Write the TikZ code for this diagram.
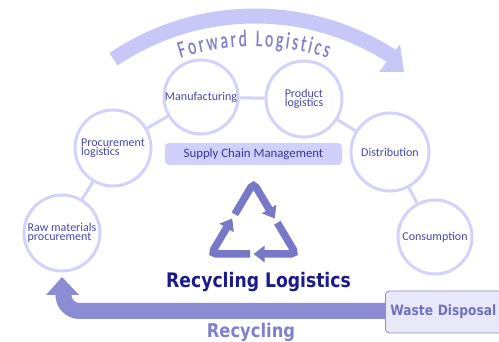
\documentclass[tikz,border=0pt]{standalone}
\usepackage{fontspec}
\setmainfont{Carlito}
\newfontfamily\circfont{Carlito}
\newfontfamily\fwdfont[FakeStretch=0.66,FakeBold=0.6]{Carlito}
\newfontfamily\boldfont[FakeStretch=0.86]{DejaVu Sans}
\usetikzlibrary{arrows.meta,decorations.text,calc}
\definecolor{circline}{RGB}{210,210,250}
\definecolor{circtext}{RGB}{72,72,168}
\definecolor{scmfill}{RGB}{208,208,250}
\definecolor{scmtext}{RGB}{56,56,150}
\definecolor{fwdband}{RGB}{200,200,248}
\definecolor{fwdtext}{RGB}{128,128,200}
\definecolor{recy}{RGB}{120,120,200}
\definecolor{rltext}{RGB}{26,26,140}
\definecolor{recband}{RGB}{140,140,212}
\definecolor{rectext}{RGB}{128,128,204}
\definecolor{wastefill}{RGB}{232,232,248}
\definecolor{wastedraw}{RGB}{140,140,204}
\definecolor{wastetext}{RGB}{112,112,192}
\begin{document}
\begin{tikzpicture}[x=1pt,y=1pt,
  stage/.style={circle, draw=circline, line width=3pt, fill=white, inner sep=0pt,
    align=left, text=circtext, font=\circfont\fontsize{12}{9}\selectfont},
  link/.style={draw=circline, line width=3pt},
  recarrow/.style={draw=recy, line width=7.5pt, rounded corners=5pt,
    -{Triangle[width=16pt,length=11pt]}}
]
\useasboundingbox (0,0) rectangle (499,-342);

% forward logistics arrow
\draw[fwdband, line width=15pt] (255,-269) ++(124:253) arc[start angle=124, end angle=57, radius=253];
\fill[fwdband] (400,-44) -- (404,-72) -- (379,-72) -- cycle;
\path[decorate, decoration={text along path,
   text={|\fwdfont\fontsize{23.5}{24}\selectfont|Forward Logistics},
   text color=fwdtext, text align={fit to path}}]
   (254,-284) ++(108:238) arc[start angle=108, end angle=72, radius=238];

% stages
\node[stage, minimum size=76pt] (raw)  at (62,-233)  {Raw materials\\procurement};
\node[stage, minimum size=76pt] (proc) at (113,-148) {Procurement\\logistics};
\node[stage, minimum size=74pt] (manu) at (201,-97)  {Manufacturing};
\node[stage, minimum size=76pt] (prod) at (304,-99)  {Product\\logistics};
\node[stage, minimum size=78pt] (dist) at (390,-152) {Distribution};
\node[stage, minimum size=74pt] (cons) at (435,-237) {Consumption};
\draw[link] (raw) -- (proc);
\draw[link] (proc) -- (manu);
\draw[link] (manu) -- (prod);
\draw[link] (prod) -- (dist);
\draw[link] (dist) -- (cons);

% supply chain management
\node[fill=scmfill, rounded corners=4pt, minimum width=177pt, minimum height=22pt,
  text=scmtext, font=\circfont\fontsize{12.8}{14}\selectfont] (scm) at (253.5,-154) {Supply Chain Management};

% recycle symbol
\coordinate (A) at (253.5,-183);
\coordinate (B) at (211,-254);
\coordinate (C) at (296,-254);
\draw[recarrow] ($(C)!0.54!(B)$) -- (B) -- ($(B)!0.5!(A)$);
\draw[recarrow] ($(B)!0.56!(A)$) -- (A) -- ($(A)!0.5!(C)$);
\draw[recarrow] ($(A)!0.56!(C)$) -- (C) -- ($(C)!0.5!(B)$);

\node[anchor=base, text=rltext, font=\boldfont\bfseries\fontsize{20}{22}\selectfont] (rl) at (258.5,-288) {Recycling Logistics};

% waste disposal and recycling arrow
\node[anchor=west, fill=wastefill, draw=wastedraw, line width=0.8pt, rounded corners=4pt,
  minimum width=135pt, minimum height=42pt, text width=125pt, align=left, inner xsep=3pt,
  text=wastetext, font=\boldfont\bfseries\fontsize{14.2}{16}\selectfont] (waste) at (385,-312) {Waste Disposal};
\coordinate (rtip) at (63.5,-294);
\draw[recband, line width=16pt, rounded corners=16pt] ([yshift=1pt]waste.west) -| (rtip);
\fill[recband] (62,-277) -- (46,-295) -- (79,-295) -- cycle;
\node[anchor=base, text=rectext, font=\boldfont\bfseries\fontsize{19}{20}\selectfont] (rec) at (251,-338) {Recycling};
\end{tikzpicture}
\end{document}
